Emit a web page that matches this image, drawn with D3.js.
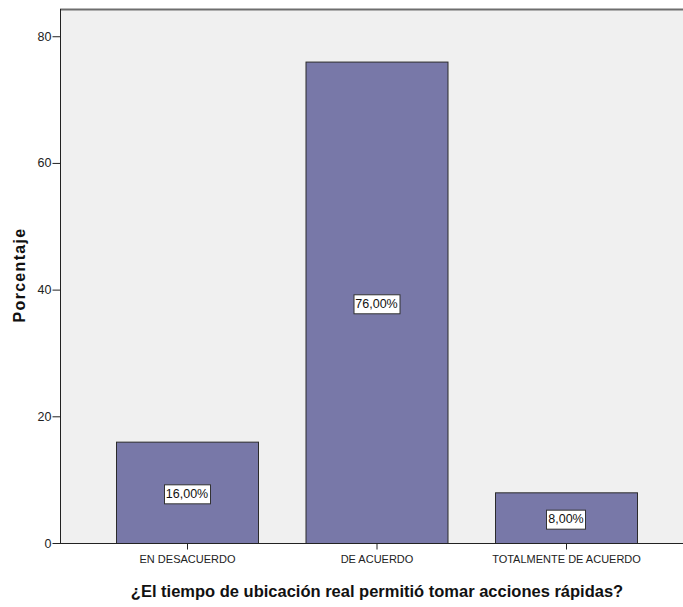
<!DOCTYPE html>
<html>
<head>
<meta charset="utf-8">
<script src="https://cdn.jsdelivr.net/npm/d3@7"></script>
<style>
  html, body { margin: 0; padding: 0; background: #ffffff; }
  svg { display: block; }
</style>
</head>
<body>
<svg id="chart" width="683" height="607"></svg>
<script>
// Response categories and their percentages
const categories = ["EN DESACUERDO", "DE ACUERDO", "TOTALMENTE DE ACUERDO"];
const percentages = [16, 76, 8];
const yTicks = [0, 20, 40, 60, 80];
const xTitle = "¿El tiempo de ubicación real permitió tomar acciones rápidas?";
const yTitle = "Porcentaje";

const svg = d3.select("#chart");
const plot = { left: 60, right: 683, top: 9, bottom: 543 };
const FONT = "Liberation Sans, Arial, sans-serif";

const y = d3.scaleLinear().domain([0, 84.3]).range([plot.bottom, plot.top]);
const x = d3.scalePoint().domain(categories).range([187, 566]);
const barW = 142;

// plot background
svg.append("rect")
  .attr("x", plot.left).attr("y", plot.top)
  .attr("width", plot.right - plot.left).attr("height", plot.bottom - plot.top)
  .attr("fill", "#f0f0f0");

// top frame line
svg.append("line")
  .attr("x1", plot.left).attr("x2", plot.right)
  .attr("y1", plot.top + 0.5).attr("y2", plot.top + 0.5)
  .attr("stroke", "#6e6e6e").attr("stroke-width", 2);

// bars
svg.append("g").selectAll("rect")
  .data(categories)
  .join("rect")
  .attr("x", (d) => x(d) - barW / 2 + 0.5)
  .attr("y", (d, i) => y(percentages[i]) + 0.5)
  .attr("width", barW)
  .attr("height", (d, i) => y(0) - y(percentages[i]))
  .attr("fill", "#7878a8")
  .attr("stroke", "#2b2b2b")
  .attr("stroke-width", 1);

// value labels
const fmt = (v) => v.toFixed(2).replace(".", ",") + "%";
const labels = svg.append("g").selectAll("g")
  .data(categories)
  .join("g")
  .attr("transform", (d, i) => `translate(${x(d)},${(y(percentages[i]) + y(0)) / 2 + 1})`);
labels.append("text")
  .attr("text-anchor", "middle")
  .attr("dy", "0.36em")
  .attr("font-family", FONT)
  .attr("font-size", 12.5)
  .attr("fill", "#111")
  .text((d, i) => fmt(percentages[i]))
  .each(function () {
    const bb = this.getBBox();
    d3.select(this.parentNode).insert("rect", "text")
      .attr("x", Math.round(bb.x - 2) + 0.5)
      .attr("y", Math.round(bb.y - 3) + 0.5)
      .attr("width", Math.round(bb.width + 4))
      .attr("height", Math.round(bb.height + 5))
      .attr("fill", "#ffffff")
      .attr("stroke", "#333333")
      .attr("stroke-width", 1);
  });

// y axis
const yAxis = svg.append("g")
  .attr("transform", `translate(${plot.left + 0.5},0)`)
  .call(d3.axisLeft(y).tickValues(yTicks).tickSize(8).tickPadding(1).tickSizeOuter(0));
yAxis.select(".domain").attr("stroke", "#222").attr("d", `M0,${plot.top}V${plot.bottom}`);
yAxis.selectAll(".tick line").attr("stroke", "#222");
yAxis.selectAll(".tick text")
  .attr("font-family", FONT)
  .attr("font-size", 12.5).attr("fill", "#222");

// x axis
const xAxis = svg.append("g")
  .attr("transform", `translate(0,${plot.bottom + 0.5})`)
  .call(d3.axisBottom(x).tickSize(6).tickPadding(6).tickSizeOuter(0));
xAxis.select(".domain").attr("stroke", "#222").attr("d", `M${plot.left},0H${plot.right}`);
xAxis.selectAll(".tick line").attr("stroke", "#222");
xAxis.selectAll(".tick text")
  .attr("font-family", FONT)
  .attr("font-size", 11).attr("fill", "#222");

// axis titles
svg.append("text")
  .attr("x", 377).attr("y", 597)
  .attr("text-anchor", "middle")
  .attr("font-family", FONT)
  .attr("font-weight", "bold").attr("font-size", 16.5)
  .attr("fill", "#111")
  .text(xTitle);

svg.append("text")
  .attr("transform", `translate(25,275) rotate(-90)`)
  .attr("text-anchor", "middle")
  .attr("font-family", FONT)
  .attr("font-weight", "bold").attr("font-size", 16)
  .attr("letter-spacing", 1.3)
  .attr("fill", "#111")
  .text(yTitle);
</script>
</body>
</html>
